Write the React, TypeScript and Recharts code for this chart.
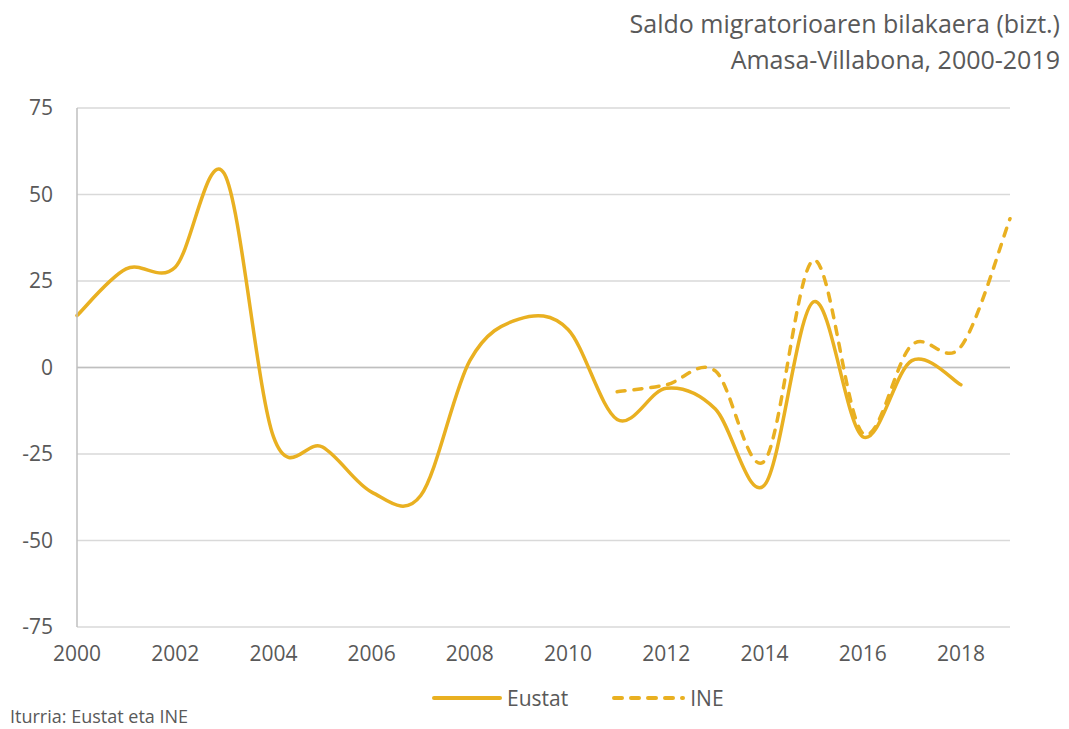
import React from 'react';
import {
  LineChart,
  Line,
  XAxis,
  YAxis,
  CartesianGrid,
  ReferenceLine,
  Legend,
} from 'recharts';

const years = [
  2000, 2001, 2002, 2003, 2004, 2005, 2006, 2007, 2008, 2009,
  2010, 2011, 2012, 2013, 2014, 2015, 2016, 2017, 2018, 2019,
];
const eustat = [
  15, 28.5, 29, 56, -20, -23, -36, -37, 2, 14,
  11, -15, -6, -12, -34, 19, -20, 2, -5, null,
];
const ine = [
  null, null, null, null, null, null, null, null, null, null,
  null, -7, -5, -1, -27, 31, -19, 6.5, 6, 43,
];
const xTicks = [2000, 2002, 2004, 2006, 2008, 2010, 2012, 2014, 2016, 2018];
const yTicks = [-75, -50, -25, 0, 25, 50, 75];

const data = years.map((year, i) => ({ year, eustat: eustat[i], ine: ine[i] }));

const FONT = '"Open Sans", sans-serif';
const TEXT = '#595959';
const GOLD = '#E9B021';

// Excel-style smoothed line: cubic bezier, control points at 1/6 of the neighbour chord
const excelCurve = (context: any) => {
  let pts: number[][] = [];
  return {
    areaStart() {},
    areaEnd() {},
    lineStart() {
      pts = [];
    },
    point(x: number, y: number) {
      pts.push([+x, +y]);
    },
    lineEnd() {
      if (!pts.length) return;
      context.moveTo(pts[0][0], pts[0][1]);
      for (let i = 0; i < pts.length - 1; i++) {
        const p0 = pts[Math.max(i - 1, 0)];
        const p1 = pts[i];
        const p2 = pts[i + 1];
        const p3 = pts[Math.min(i + 2, pts.length - 1)];
        context.bezierCurveTo(
          p1[0] + (p2[0] - p0[0]) / 6,
          p1[1] + (p2[1] - p0[1]) / 6,
          p2[0] - (p3[0] - p1[0]) / 6,
          p2[1] - (p3[1] - p1[1]) / 6,
          p2[0],
          p2[1],
        );
      }
    },
  };
};

const renderLegend = () => (
  <div style={{ display: 'flex', alignItems: 'center', height: 30, fontFamily: FONT, fontSize: 21, color: TEXT }}>
    <svg width={70} height={30}>
      <line x1={2} y1={15} x2={68} y2={15} stroke={GOLD} strokeWidth={4} strokeLinecap="round" />
    </svg>
    <span style={{ marginLeft: 5 }}>Eustat</span>
    <svg width={73} height={30} style={{ marginLeft: 44 }}>
      <line x1={2} y1={15} x2={71} y2={15} stroke={GOLD} strokeWidth={4} strokeLinecap="round" strokeDasharray="8 9" />
    </svg>
    <span style={{ marginLeft: 5 }}>INE</span>
  </div>
);

export default function App() {
  return (
    <div style={{ position: 'absolute', left: 0, top: 0, width: 1069, height: 729, background: '#fff' }}>
      <div style={{ position: 'absolute', right: 9, top: 5, textAlign: 'right', fontFamily: FONT, fontSize: 25, lineHeight: '36px', color: TEXT }}>
        <div>Saldo migratorioaren bilakaera (bizt.)</div>
        <div>Amasa-Villabona, 2000-2019</div>
      </div>
      <LineChart width={1069} height={729} data={data} margin={{ top: 108, right: 59, bottom: 42, left: 0 }}>
        <CartesianGrid vertical={false} stroke="#D9D9D9" strokeWidth={1.5} />
        <XAxis
          dataKey="year"
          type="number"
          domain={[2000, 2019]}
          ticks={xTicks}
          interval={0}
          axisLine={false}
          tickLine={false}
          tickSize={6}
          tickMargin={13}
          height={30}
          tick={{ fill: TEXT, fontSize: 21, fontFamily: FONT }}
        />
        <YAxis
          type="number"
          domain={[-75, 75]}
          ticks={yTicks}
          interval={0}
          width={77}
          axisLine={{ stroke: '#BFBFBF', strokeWidth: 1.5 }}
          tickLine={false}
          tickSize={6}
          tickMargin={18}
          tick={{ fill: TEXT, fontSize: 21, fontFamily: FONT }}
        />
        <ReferenceLine y={0} stroke="#BFBFBF" strokeWidth={1.5} />
        <Legend content={renderLegend} wrapperStyle={{ left: 432, bottom: 16, width: 'auto' }} />
        <Line
          dataKey="eustat"
          name="Eustat"
          type={excelCurve as any}
          stroke={GOLD}
          strokeWidth={3.5}
          strokeLinecap="round"
          dot={false}
          activeDot={false}
          isAnimationActive={false}
        />
        <Line
          dataKey="ine"
          name="INE"
          type={excelCurve as any}
          stroke={GOLD}
          strokeWidth={3.5}
          strokeLinecap="round"
          strokeDasharray="8 9"
          dot={false}
          activeDot={false}
          isAnimationActive={false}
        />
      </LineChart>
      <div style={{ position: 'absolute', left: 10, top: 704, fontFamily: FONT, fontSize: 18, color: TEXT }}>
        Iturria: Eustat eta INE
      </div>
    </div>
  );
}
